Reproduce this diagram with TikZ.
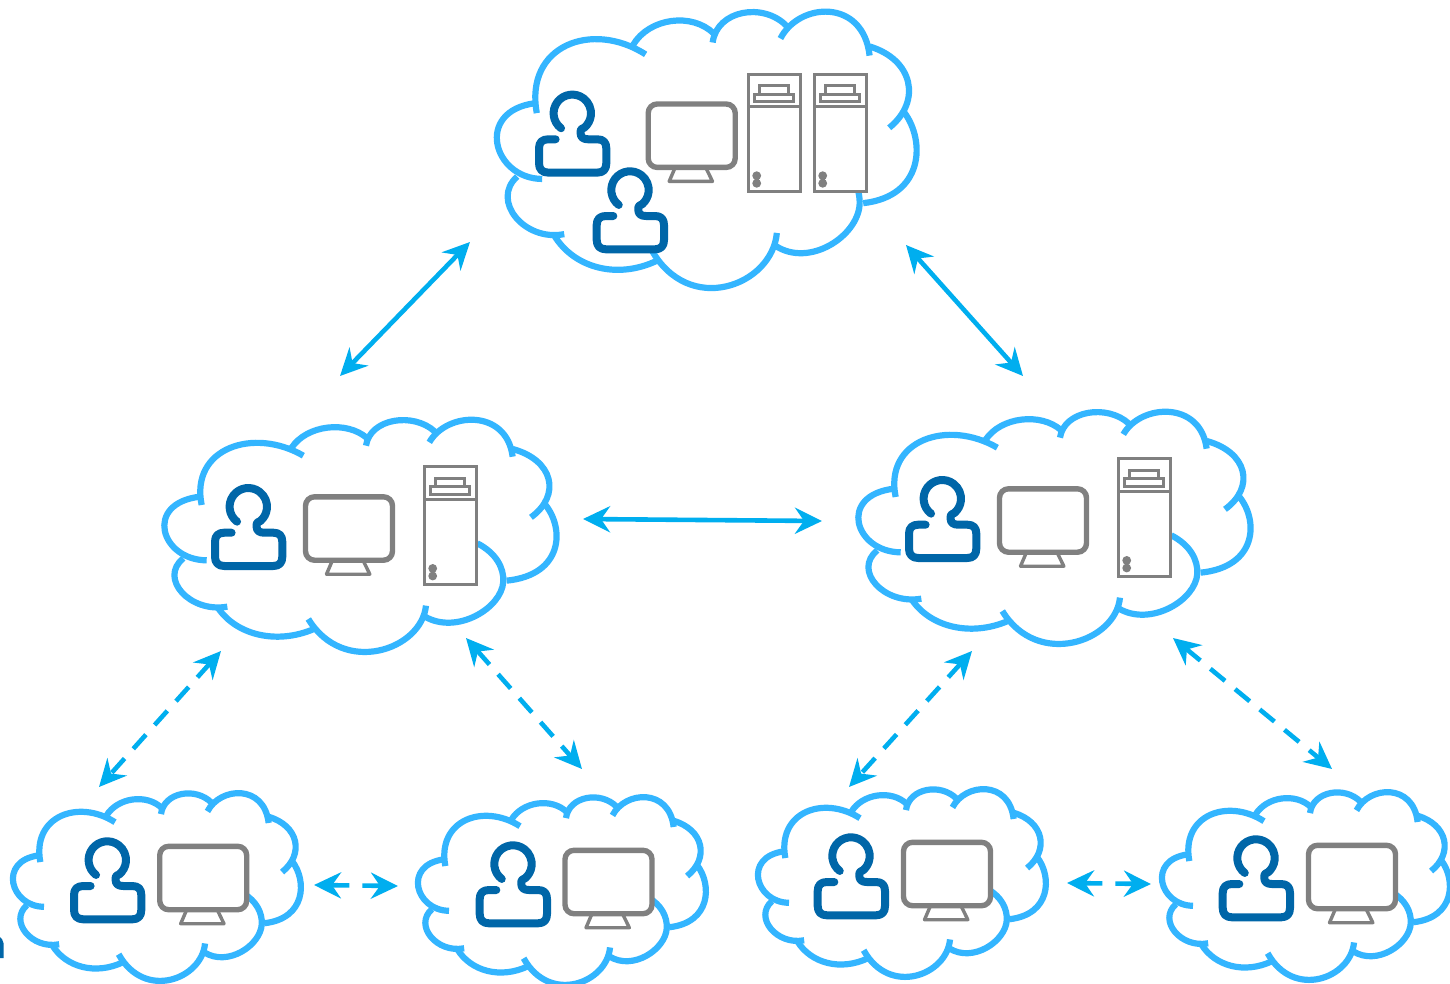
\documentclass[tikz,border=0pt]{standalone}
\usetikzlibrary{arrows.meta}
\definecolor{cloudblue}{HTML}{33B5FF}
\definecolor{arrowblue}{HTML}{00AEEF}
\definecolor{userblue}{HTML}{0066A8}
\definecolor{iconGray}{HTML}{808080}
\tikzset{
  arc part/.style={draw=cloudblue,line width=6.2pt,line cap=butt},
  link/.style={draw=arrowblue,line width=4.6pt,{Stealth[length=27pt,width=26pt,inset=9pt]}-{Stealth[length=27pt,width=26pt,inset=9pt]}},
  dashlink/.style={link,dash pattern=on 19pt off 13pt},
  userline/.style={draw=userblue,line width=8pt,line cap=round,line join=round},
  screenline/.style={draw=iconGray,line width=5.4pt,rounded corners=9pt,fill=white},
  standline/.style={draw=iconGray,line width=3.4pt,line join=round},
  boxline/.style={draw=iconGray,line width=3pt,fill=white},
  cloudpic/.pic={
    \draw[arc part] (155,300) .. controls (120,130) and (310,65) .. (460,152);
    \draw[arc part] (425,128) .. controls (470,60) and (590,45) .. (652,100);
    \draw[arc part] (648,122) .. controls (660,40) and (790,20) .. (855,80);
    \draw[arc part] (838,112) .. controls (890,20) and (1070,10) .. (1088,155);
    \draw[arc part] (1088,132) .. controls (1210,165) and (1235,270) .. (1143,337);
    \draw[arc part] (1185,298) .. controls (1245,370) and (1240,510) .. (1070,527);
    \draw[arc part] (982,415) .. controls (1040,445) and (1062,490) .. (1060,530)
      .. controls (1055,610) and (920,690) .. (825,635);
    \draw[arc part] (828,602) .. controls (815,735) and (580,815) .. (475,642);
    \draw[arc part] (492,672) .. controls (380,720) and (260,690) .. (205,610);
    \draw[arc part] (232,605) .. controls (120,625) and (25,520) .. (100,460);
    \draw[arc part] (170,466) .. controls (32,465) and (-20,295) .. (150,275);
  },
  userpic/.pic={
    \fill[white] (0,0) circle (18pt) (-33,26) rectangle (34,59);
    \draw[userline] (127:18.7) arc[start angle=127,end angle=410,radius=18.7]
      .. controls (8.3,16) .. (8.3,20) .. controls (8.3,24) and (11,26) .. (16,26)
      -- (25,26) .. controls (31,26) and (34,29) .. (34,35) -- (34,50)
      .. controls (34,56) and (31,59.3) .. (25,59.3) -- (-24,59.3)
      .. controls (-30,59.3) and (-33.3,56) .. (-33.3,50) -- (-33.3,35)
      .. controls (-33.3,29) and (-30,26) .. (-24,26) -- (-16.7,26);
  },
  monitorpic/.pic={
    \draw[standline] (-16.5,31.7) -- (-22.5,45.7) -- (20.8,45.7) -- (14,31.7);
    \draw[screenline] (-43.5,-31.7) rectangle (43.5,31.7);
  },
  serverpic/.pic={
    \draw[boxline] (0,0) rectangle (52,117.7);
    \draw[boxline] (0,32.7) -- (52,32.7);
    \draw[boxline] (11.7,11.7) rectangle (40.7,20);
    \draw[boxline] (6.7,20) rectangle (45.3,27.3);
    \fill[iconGray] (8.7,101.7) circle (4.4pt) (8.7,109.3) circle (4.4pt);
  }
}
\begin{document}
\begin{tikzpicture}[x=1pt,y=-1pt]
\useasboundingbox (0,0) rectangle (1450,983);
\clip (0,0) rectangle (1450,983);
\fill[white] (0,0) rectangle (1450,983);
% clouds
\pic[xscale=0.3567,yscale=0.3967] (cT) at (481.5,-5.9) {cloudpic};
\pic[scale=0.3333] (cL) at (150,405) {cloudpic};
\pic[scale=0.3333] (cR) at (844,397) {cloudpic};
\pic[xscale=0.2447,yscale=0.2695] (c1) at (2.4,781.2) {cloudpic};
\pic[xscale=0.2447,yscale=0.2695] (c2) at (407.4,785.2) {cloudpic};
\pic[xscale=0.2447,yscale=0.2695] (c3) at (747.4,777.2) {cloudpic};
\pic[xscale=0.2447,yscale=0.2695] (c4) at (1151.4,780.2) {cloudpic};
% servers
\pic (sT1) at (748,74) {serverpic};
\pic (sT2) at (814,74) {serverpic};
\pic (sL) at (424,466.7) {serverpic};
\pic (sR) at (1118,458.7) {serverpic};
% monitors
\pic (mT) at (691.7,135.7) {monitorpic};
\pic (mL) at (349,528.5) {monitorpic};
\pic (mR) at (1043,520.5) {monitorpic};
\pic (m1) at (203.2,878) {monitorpic};
\pic (m2) at (608.5,882) {monitorpic};
\pic (m3) at (947,874) {monitorpic};
\pic (m4) at (1352,877) {monitorpic};
% users
\pic (uT1) at (572.3,113.3) {userpic};
\pic (uT2) at (630,190) {userpic};
\pic (uL) at (248.3,506.7) {userpic};
\pic (uR) at (942.3,498.7) {userpic};
\pic (u1) at (107.3,860) {userpic};
\pic (u2) at (513,864) {userpic};
\pic (u3) at (851,856) {userpic};
\pic (u4) at (1256,858) {userpic};
% connector ends
\coordinate (a1) at (470,242); \coordinate (a2) at (340,376);
\coordinate (b1) at (906,245); \coordinate (b2) at (1023,376);
\coordinate (c1e) at (583,519); \coordinate (c2e) at (822,521);
\coordinate (d1) at (221,651); \coordinate (d2) at (99,787);
\coordinate (e1) at (466,638); \coordinate (e2) at (582,769);
\coordinate (f1) at (972,651); \coordinate (f2) at (849,787);
\coordinate (g1) at (1173,638); \coordinate (g2) at (1332,769);
\coordinate (h1) at (314,885); \coordinate (h2) at (398,886);
\coordinate (i1) at (1067,883); \coordinate (i2) at (1151,884);
\draw[link] (a1) -- (a2);
\draw[link] (b1) -- (b2);
\draw[link] (c1e) -- (c2e);
\draw[dashlink] (d1) -- (d2);
\draw[dashlink] (e1) -- (e2);
\draw[dashlink] (f1) -- (f2);
\draw[dashlink] (g1) -- (g2);
\draw[dashlink] (h1) -- (h2);
\draw[dashlink] (i1) -- (i2);
% clipped fragment at the lower left edge
\fill[userblue] (0,937) -- (2,939) -- (3.5,943) -- (3.5,958) -- (0,958) -- cycle;
\end{tikzpicture}
\end{document}
